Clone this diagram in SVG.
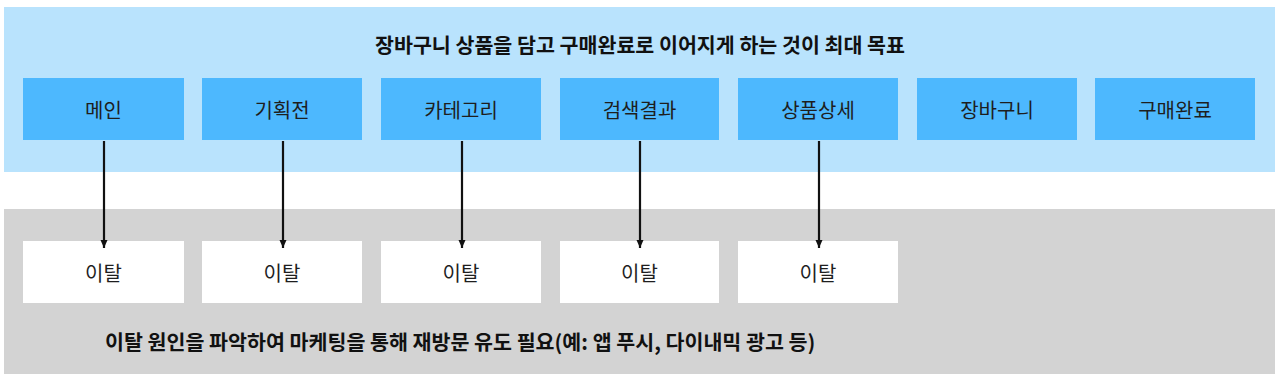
<svg xmlns="http://www.w3.org/2000/svg" width="1280" height="383" viewBox="0 0 1280 383">
<style>
.panelTop{fill:#b9e3fd}
.panelBot{fill:#d3d3d3}
.stage{fill:#4db8fe}
.exit{fill:#ffffff}
.lbl{font-family:"Noto Sans CJK KR","Noto Sans",sans-serif;font-size:20px;fill:#1e1e1e;text-anchor:middle;dominant-baseline:central}
.title{font-family:"Noto Sans CJK KR","Noto Sans",sans-serif;font-size:20.6px;font-weight:bold;fill:#111;dominant-baseline:central}
.conn{stroke:#111;stroke-width:2.2;fill:none;marker-end:url(#ah)}
</style>
<defs>
<marker id="ah" markerWidth="8" markerHeight="9" refX="8" refY="4" orient="auto" markerUnits="userSpaceOnUse">
<path d="M0,0.5 L8,4 L0,7.5 z" fill="#111"/>
</marker>
</defs>
<rect width="1280" height="383" fill="#ffffff"/>
<g id="panel-goal">
<rect class="panelTop" x="4" y="7" width="1271" height="165"/>
<text class="title" x="640" y="44" text-anchor="middle">장바구니 상품을 담고 구매완료로 이어지게 하는 것이 최대 목표</text>
</g>
<g id="panel-exit">
<rect class="panelBot" x="4" y="209" width="1271" height="165"/>
<text class="title" x="105" y="341">이탈 원인을 파악하여 마케팅을 통해 재방문 유도 필요(예: 앱 푸시, 다이내믹 광고 등)</text>
</g>
<g id="node-main"><rect class="stage" x="23" y="78" width="161" height="62"/><text class="lbl" x="103.5" y="109">메인</text></g>
<g id="node-promo"><rect class="stage" x="202" y="78" width="160" height="62"/><text class="lbl" x="282" y="109">기획전</text></g>
<g id="node-category"><rect class="stage" x="381" y="78" width="160" height="62"/><text class="lbl" x="461" y="109">카테고리</text></g>
<g id="node-search"><rect class="stage" x="560" y="78" width="159" height="62"/><text class="lbl" x="639.5" y="109">검색결과</text></g>
<g id="node-detail"><rect class="stage" x="738" y="78" width="160" height="62"/><text class="lbl" x="818" y="109">상품상세</text></g>
<g id="node-cart"><rect class="stage" x="917" y="78" width="160" height="62"/><text class="lbl" x="997" y="109">장바구니</text></g>
<g id="node-purchase"><rect class="stage" x="1095" y="78" width="160" height="62"/><text class="lbl" x="1175" y="109">구매완료</text></g>
<g id="exit-1"><rect class="exit" x="23" y="241" width="161" height="62"/><text class="lbl" x="103.5" y="272">이탈</text></g>
<g id="exit-2"><rect class="exit" x="202" y="241" width="160" height="62"/><text class="lbl" x="282" y="272">이탈</text></g>
<g id="exit-3"><rect class="exit" x="381" y="241" width="160" height="62"/><text class="lbl" x="461" y="272">이탈</text></g>
<g id="exit-4"><rect class="exit" x="560" y="241" width="159" height="62"/><text class="lbl" x="639.5" y="272">이탈</text></g>
<g id="exit-5"><rect class="exit" x="738" y="241" width="160" height="62"/><text class="lbl" x="818" y="272">이탈</text></g>
<g id="connectors">
<line class="conn" x1="104" y1="141" x2="104" y2="248"/>
<line class="conn" x1="283" y1="141" x2="283" y2="248"/>
<line class="conn" x1="462" y1="141" x2="462" y2="248"/>
<line class="conn" x1="640" y1="141" x2="640" y2="248"/>
<line class="conn" x1="819" y1="141" x2="819" y2="248"/>
</g>
</svg>
